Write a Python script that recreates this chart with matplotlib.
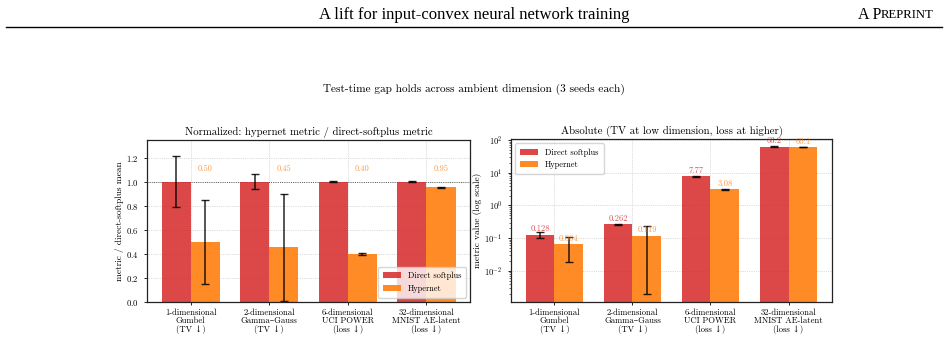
import numpy as np
import matplotlib
matplotlib.use("Agg")
import matplotlib.pyplot as plt

plt.rcParams['font.family'] = ['cmr10', 'DejaVu Serif']
plt.rcParams['mathtext.fontset'] = 'cm'
plt.rcParams['axes.formatter.use_mathtext'] = True
plt.rcParams['axes.unicode_minus'] = False

categories = ["1-dimensional\nGumbel\n(TV \u2193)",
              "2-dimensional\nGamma\u2013Gauss\n(TV \u2193)",
              "6-dimensional\nUCI POWER\n(loss \u2193)",
              "32-dimensional\nMNIST AE-latent\n(loss \u2193)"]

# normalized (hypernet / direct-softplus mean)
norm_direct = [1.0, 1.0, 1.0, 1.0]
norm_direct_err = [0.21, 0.06, 0.005, 0.003]
norm_hyper = [0.50, 0.455, 0.40, 0.953]
norm_hyper_err = [0.35, 0.445, 0.007, 0.003]
norm_labels = ["0.50", "0.45", "0.40", "0.95"]

# absolute values
abs_direct = [0.128, 0.262, 7.77, 63.2]
abs_direct_lo = [0.100, 0.245, 7.55, 61.8]
abs_direct_hi = [0.155, 0.280, 7.95, 64.5]
abs_hyper = [0.064, 0.119, 3.08, 60.1]
abs_hyper_lo = [0.019, 0.002, 2.98, 59.2]
abs_hyper_hi = [0.110, 0.235, 3.18, 61.0]
abs_direct_labels = ["0.128", "0.262", "7.77", "63.2"]
abs_hyper_labels = ["0.064", "0.119", "3.08", "60.1"]

red = '#d62728'
orange = '#ff7f0e'
W = 0.37
x = np.arange(len(categories))

fig = plt.figure(figsize=(9.48, 3.4), dpi=100)

# page header
fig.text(0.500, 0.957, "A lift for input-convex neural network training",
         ha='center', va='center', fontsize=12, family='Liberation Serif')
fig.text(0.9295, 0.957, "A P", ha='right', va='center', fontsize=11.5, family='Liberation Serif')
fig.text(0.9295, 0.957, "REPRINT", ha='left', va='center', fontsize=9.2, family='Liberation Serif')
fig.add_artist(plt.Line2D([0.006, 0.994], [0.921, 0.921], color='black', lw=1.0,
                          transform=fig.transFigure))

fig.text(0.5, 0.738, "Test-time gap holds across ambient dimension (3 seeds each)",
         ha='center', va='center', fontsize=8.1)

ax1 = fig.add_axes([0.155, 0.112, 0.341, 0.476])
ax2 = fig.add_axes([0.539, 0.112, 0.3386, 0.479])

ekw = dict(ecolor='black', elinewidth=1.1, capsize=3, capthick=1.0, alpha=0.85)

ax1.bar(x - W/2, norm_direct, W, color=red, alpha=0.85, label='Direct softplus',
        yerr=norm_direct_err, error_kw=ekw, zorder=2)
ax1.bar(x + W/2, norm_hyper, W, color=orange, alpha=0.9, label='Hypernet',
        yerr=norm_hyper_err, error_kw=ekw, zorder=2)
ax1.axhline(1.0, color='black', lw=0.6, ls=':', alpha=0.8, zorder=1)
for i, s in enumerate(norm_labels):
    ax1.text(x[i] + W/2, 1.07, s, ha='center', va='bottom', fontsize=6.0, color=orange, alpha=0.8)
ax1.set_ylim(0, 1.345)
ax1.set_ylabel("metric / direct-softplus mean", fontsize=6.8, labelpad=1.5)
ax1.set_title("Normalized: hypernet metric / direct-softplus metric", fontsize=7.8, pad=4)
ax1.legend(loc='lower right', fontsize=6.0, handlelength=2.2, borderpad=0.6)

dlo = np.array(abs_direct) - np.array(abs_direct_lo)
dhi = np.array(abs_direct_hi) - np.array(abs_direct)
hlo = np.array(abs_hyper) - np.array(abs_hyper_lo)
hhi = np.array(abs_hyper_hi) - np.array(abs_hyper)
ax2.bar(x - W/2, abs_direct, W, color=red, alpha=0.85, label='Direct softplus',
        yerr=[dlo, dhi], error_kw=ekw, zorder=2)
ax2.bar(x + W/2, abs_hyper, W, color=orange, alpha=0.9, label='Hypernet',
        yerr=[hlo, hhi], error_kw=ekw, zorder=2)
ax2.set_yscale('log')
ax2.set_ylim(10**-2.95, 10**2.03)
for i in range(len(x)):
    ax2.text(x[i] - W/2, abs_direct[i] * 1.1, abs_direct_labels[i], ha='center', va='bottom',
             fontsize=6.2, color=red, alpha=0.8)
    ax2.text(x[i] + W/2, abs_hyper[i] * 1.1, abs_hyper_labels[i], ha='center', va='bottom',
             fontsize=6.2, color=orange, alpha=0.8)
ax2.set_ylabel("metric value (log scale)", fontsize=6.8, labelpad=2)
ax2.set_title("Absolute (TV at low dimension, loss at higher)", fontsize=7.8, pad=4)
ax2.legend(loc='upper left', fontsize=6.0, handlelength=2.2, borderpad=0.6)

for ax in (ax1, ax2):
    ax.set_xticks(x)
    ax.set_xticklabels(categories, fontsize=6.2, linespacing=1.0)
    ax.tick_params(axis='y', labelsize=6.2, length=2.5, width=0.6)
    ax.tick_params(axis='x', length=2.5, width=0.6, pad=2)
    ax.tick_params(which='minor', length=1.5, width=0.4)
    ax.grid(True, ls=':', lw=0.5, color='#bbbbbb', zorder=0)
    ax.set_axisbelow(True)
    for sp in ax.spines.values():
        sp.set_linewidth(0.9)
        sp.set_color('#222222')

fig.savefig("out.png", dpi=100)
